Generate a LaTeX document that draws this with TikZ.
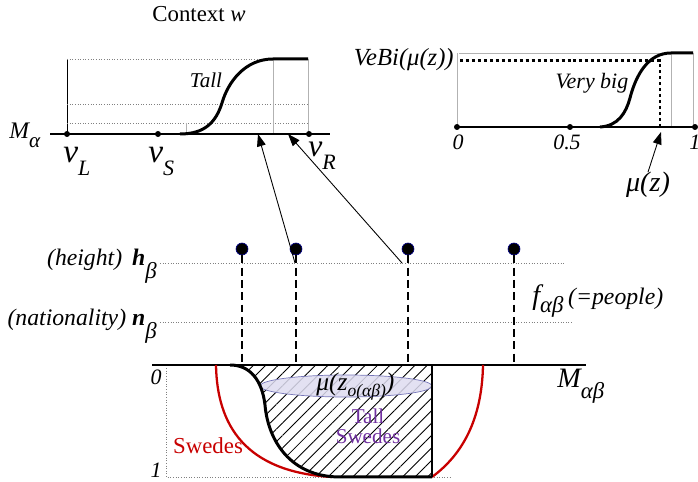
\documentclass[tikz,border=0pt]{standalone}
\usepackage{fontspec}
\setmainfont{Liberation Serif}
\usetikzlibrary{arrows.meta,patterns.meta}
\definecolor{lavender}{RGB}{222,220,240}
\definecolor{rim}{RGB}{120,120,185}
\definecolor{swedered}{RGB}{200,0,0}
\definecolor{tallpurple}{RGB}{112,48,160}

\begin{document}
\begin{tikzpicture}[x=0.02cm,y=-0.02cm,
  guide/.style={gray,densely dotted,line width=0.5pt},
  frame/.style={gray!60,line width=0.5pt},
  axis/.style={line width=0.8pt},
  member/.style={line width=1.7pt},
  stem/.style={line width=1.5pt,dash pattern=on 4.5pt off 2.5pt},
  knob/.style={circle,fill=black,draw=blue!50!black,inner sep=0pt,minimum size=6.8pt},
  dot/.style={circle,fill=black,inner sep=0pt,minimum size=3.4pt},
  pointer/.style={-{Triangle[length=7pt,width=5pt]},line width=0.5pt},
  lab/.style={inner sep=0pt,anchor=base west},
]
\useasboundingbox (0,0) rectangle (698,482);

% context graph: Tall
\node[lab,anchor=base,font=\fontsize{13}{15}\selectfont] (ctx) at (199,22) {Context \textit{w}};
\draw[line width=0.5pt] (67,59) -- (67,134);
\draw[guide] (67,59) -- (308,59);
\draw[guide] (67,104) -- (308,104);
\draw[guide] (67,123) -- (308,123);
\draw[frame] (273,59) -- (273,134);
\draw[frame] (308,59) -- (308,134);
\draw[frame] (186,123) -- (186,134);
\draw[axis] (50,134) -- (330,134);
\draw[member] (180,134) .. controls (205,134) and (216,122) .. (222,103)
  .. controls (228,82) and (245,59) .. (273,59) -- (308,59);
\node[dot] (vL) at (67,134) {};
\node[dot] (vS) at (158,134) {};
\node[dot] (vR) at (309,134) {};
\node[lab,font=\fontsize{13.5}{14}\selectfont\itshape] (ma) at (9,139) {M\raisebox{-5pt}{\fontsize{12}{12}\selectfont α}};
\node[lab,font=\fontsize{19}{20}\selectfont\itshape] (lvL) at (63,163) {v\raisebox{-7pt}{\fontsize{12.5}{12}\selectfont L}};
\node[lab,font=\fontsize{19}{20}\selectfont\itshape] (lvS) at (148,163) {v\raisebox{-7pt}{\fontsize{12.5}{12}\selectfont S}};
\node[lab,font=\fontsize{18}{20}\selectfont\itshape] (lvR) at (308,157) {v\raisebox{-7pt}{\fontsize{12.5}{12}\selectfont R}};
\node[lab,anchor=base,font=\fontsize{12}{12}\selectfont\itshape] (tall) at (206,88) {Tall};
\coordinate (a1) at (258,134);
\coordinate (a2) at (288,134);

% hedge graph: Very big
\draw[frame] (457,53) -- (457,127);
\draw[frame] (459,53) -- (693,53);
\draw[frame] (671,53) -- (671,127);
\draw[frame] (693,53) -- (693,127);
\draw[axis] (457,127) -- (697,127);
\draw[line width=1.7pt,dash pattern=on 1.7pt off 1.7pt] (460,61) -- (660,61) -- (660,127);
\draw[member] (600,127) .. controls (618,126) and (626,113) .. (630,98)
  .. controls (636,75) and (648,53) .. (671,53) -- (693,53);
\node[dot] (u0) at (457,127) {};
\node[dot] (uh) at (570,127) {};
\node[dot] (u1) at (695,127) {};
\node[lab,anchor=base,font=\fontsize{12.5}{12}\selectfont\itshape] (l0) at (458,150) {0};
\node[lab,anchor=base,font=\fontsize{12.5}{12}\selectfont\itshape] (lh) at (567,150) {0.5};
\node[lab,font=\fontsize{12.5}{12}\selectfont\itshape] (l1) at (689,150) {1};
\node[lab,anchor=base east,font=\fontsize{14}{14}\selectfont\itshape] (vebi) at (454,66) {VeBi(μ(z))};
\node[lab,anchor=base,font=\fontsize{12.5}{13}\selectfont\itshape] (vbig) at (592,89) {Very big};
\node[lab,anchor=base,font=\fontsize{16}{17}\selectfont\itshape] (muz) at (648,192) {μ(z)};
\coordinate (a3) at (661,132);
\draw[pointer] (muz.north) -- (a3);

% feature lines and people
\draw[guide] (160,263) -- (565,263);
\draw[guide] (160,322) -- (572,322);
\node[lab,anchor=base east,font=\fontsize{13.5}{14}\selectfont\itshape] (hb) at (157,266)
  {(height)\, \textbf{h}\raisebox{-7pt}{\fontsize{13}{13}\selectfont β}};
\node[lab,anchor=base east,font=\fontsize{13.5}{14}\selectfont\itshape] (nb) at (157,326)
  {(nationality) \textbf{n}\raisebox{-7pt}{\fontsize{13}{13}\selectfont β}};
\node[lab,font=\fontsize{16}{17}\selectfont\itshape] (fab) at (532,305)
  {f\raisebox{-4pt}{\fontsize{13}{13}\selectfont αβ}\,{\fontsize{13.5}{14}\selectfont (=people)}};
\foreach \i/\x in {1/242,2/296,3/408,4/514}{
  \node[knob] (p\i) at (\x,249) {};
  \coordinate (b\i) at (\x,365);
  \draw[stem] (p\i) -- (b\i);
}
\coordinate (s1) at (295,263);
\coordinate (s2) at (402,263);
\draw[pointer] (s1) -- (a1);
\draw[pointer] (s2) -- (a2);

% membership of Swedes
\fill[pattern={Lines[angle=45,distance=5pt,line width=0.5pt]}]
  (230,365) .. controls (250,365) and (262,380) .. (265,405)
  .. controls (268,440) and (290,477) .. (340,477) -- (432,477) -- (432,365) -- cycle;
\draw[draw=rim,fill=lavender,fill opacity=0.85] (346,386) ellipse (86 and 11);
\draw[axis] (152,365) -- (586,365);
\draw[guide] (166,368) -- (166,477) -- (450,477);
\draw[swedered,line width=1.3pt] (216,365) .. controls (217,425) and (245,472) .. (332,477);
\draw[swedered,line width=1.3pt] (432,477) .. controls (462,455) and (482,420) .. (483,365);
\draw[member] (230,365) .. controls (250,365) and (262,380) .. (265,405)
  .. controls (268,440) and (290,477) .. (340,477) -- (432,477);
\draw[line width=1.2pt] (432,477) -- (432,365);
\node[lab,anchor=base,font=\fontsize{12.5}{12}\selectfont\itshape] (z0) at (156,385) {0};
\node[lab,anchor=base,font=\fontsize{12.5}{12}\selectfont\itshape] (z1) at (156,478) {1};
\node[lab,font=\fontsize{14.5}{15}\selectfont\itshape] (mzo) at (316,391)
  {μ(z\raisebox{-3pt}{\fontsize{10}{10}\selectfont o(αβ)})};
\node[lab,font=\fontsize{16}{16}\selectfont\itshape] (mab) at (557,388)
  {M\raisebox{-6pt}{\fontsize{13}{13}\selectfont αβ}};
\node[lab,anchor=base,font=\fontsize{13}{13}\selectfont,text=swedered] (swe) at (208,454) {Swedes};
\node[align=center,inner sep=0pt,font=\fontsize{12}{11.5}\selectfont,text=tallpurple] (tsw) at (368,426) {Tall\\Swedes};
\end{tikzpicture}
\end{document}
